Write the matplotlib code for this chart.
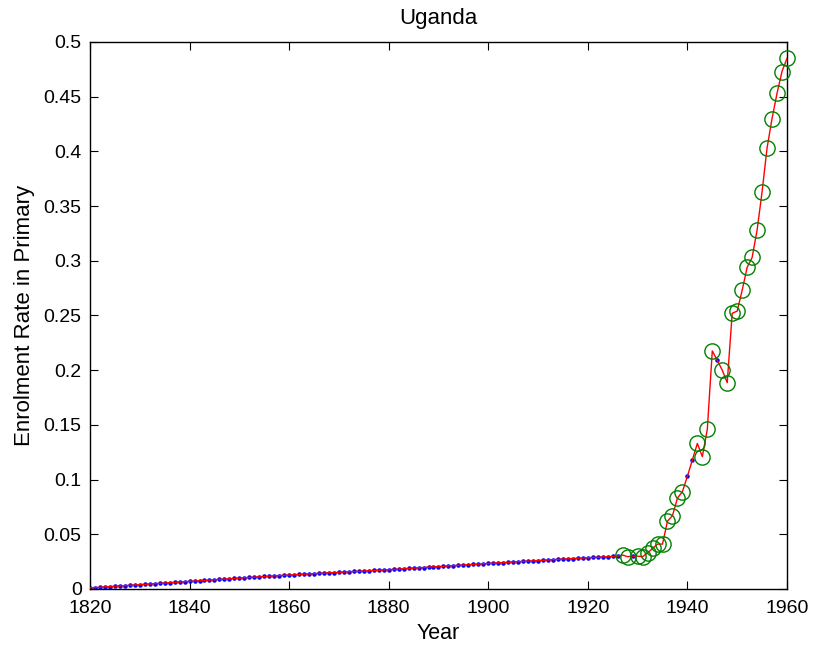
import numpy as np
from matplotlib import pyplot as plt
from matplotlib.ticker import FuncFormatter

# Years and enrolment rate
years = list(range(1820, 1961))

rate = [
    0.0010, 0.0013, 0.0016, 0.0019, 0.0022, 0.0025, 0.0028, 0.0031, 0.0034, 0.0037,
    0.0040, 0.0043, 0.0046, 0.0049, 0.0052, 0.0055, 0.0058, 0.0061, 0.0064, 0.0067,
    0.0070, 0.0073, 0.0076, 0.0079, 0.0082, 0.0085, 0.0088, 0.0091, 0.0094, 0.0097,
    0.0100, 0.0103, 0.0106, 0.0109, 0.0111, 0.0114, 0.0117, 0.0120, 0.0123, 0.0125,
    0.0128, 0.0130, 0.0133, 0.0135, 0.0138, 0.0140, 0.0143, 0.0145, 0.0148, 0.0150,
    0.0152, 0.0155, 0.0157, 0.0160, 0.0162, 0.0164, 0.0167, 0.0169, 0.0172, 0.0174,
    0.0176, 0.0179, 0.0182, 0.0185, 0.0188, 0.0190, 0.0193, 0.0196, 0.0199, 0.0202,
    0.0205, 0.0208, 0.0211, 0.0214, 0.0216, 0.0219, 0.0222, 0.0225, 0.0228, 0.0230,
    0.0233, 0.0236, 0.0239, 0.0241, 0.0244, 0.0247, 0.0249, 0.0252, 0.0255, 0.0257,
    0.0260, 0.0263, 0.0265, 0.0268, 0.0270, 0.0273, 0.0276, 0.0278, 0.0281, 0.0283,
    0.0286, 0.0288, 0.0290, 0.0293, 0.0295, 0.0297, 0.0300, 0.0310, 0.0295, 0.0300,
    0.0300, 0.0295, 0.0330, 0.0370, 0.0410, 0.0410, 0.0620, 0.0670, 0.0830, 0.0890,
    0.1030, 0.1180, 0.1330, 0.1210, 0.1460, 0.2176, 0.2090, 0.2000, 0.1886, 0.2520,
    0.2540, 0.2730, 0.2940, 0.3030, 0.3280, 0.3630, 0.4030, 0.4300, 0.4530, 0.4730,
    0.4850,
]

# Years with actual observations (green circles); the rest are filled in
observed = [1927, 1928, 1930, 1931, 1932, 1933, 1934, 1935, 1936, 1937, 1938, 1939,
            1942, 1943, 1944, 1945, 1947, 1948, 1949, 1950, 1951, 1952, 1953, 1954,
            1955, 1956, 1957, 1958, 1959, 1960]

years = np.array(years)
rate = np.array(rate)
is_obs = np.isin(years, observed)

plt.rcParams['font.family'] = ['Liberation Sans', 'DejaVu Sans']

fig = plt.figure(figsize=(8.15, 6.49), dpi=100)
ax = fig.add_axes([0.1104, 0.0925, 0.8552, 0.8428])

ax.plot(years[~is_obs], rate[~is_obs], '.', color='blue', markersize=4.5, zorder=2)
ax.plot(years, rate, color='red', lw=1.0, zorder=3)
ax.plot(years[is_obs], rate[is_obs], 'o', mfc='none', mec=(0, 0.5, 0),
        markersize=11, mew=1.0, zorder=4, clip_on=False)

ax.set_xlim(1820, 1960)
ax.set_ylim(0, 0.5)
ax.set_xticks(range(1820, 1961, 20))
ax.set_yticks(np.arange(0, 0.501, 0.05))
ax.yaxis.set_major_formatter(FuncFormatter(lambda v, p: '%g' % round(v, 2)))

ax.tick_params(direction='in', top=True, right=True, labelsize=14, length=6)
ax.tick_params(axis='x', pad=8)
ax.tick_params(axis='y', pad=6)
for s in ax.spines.values():
    s.set_linewidth(1.0)

ax.set_title('Uganda', fontsize=16, pad=13)
ax.set_xlabel('Year', fontsize=15.5, labelpad=4)
ax.set_ylabel('Enrolment Rate in Primary', fontsize=16, labelpad=6)

fig.savefig('out.png', dpi=100)
